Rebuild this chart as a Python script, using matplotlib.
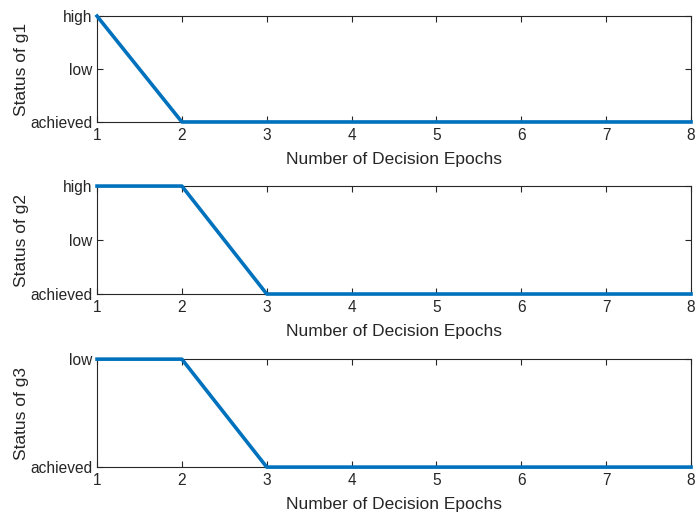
import numpy as np
from matplotlib import pyplot as plt

plt.rcParams['font.family'] = ['Liberation Sans', 'DejaVu Sans']

# Decision epochs and goal status (0 = achieved, 1 = low, 2 = high)
epochs = [1, 2, 3, 4, 5, 6, 7, 8]
status_g1 = [2, 0, 0, 0, 0, 0, 0, 0]
status_g2 = [2, 2, 0, 0, 0, 0, 0, 0]
status_g3 = [1, 1, 0, 0, 0, 0, 0, 0]
level_names = ['achieved', 'low', 'high']

series = [('g1', status_g1, 3), ('g2', status_g2, 3), ('g3', status_g3, 2)]
# axes rectangles [left, bottom, width, height]
rects = [[0.139, 0.765, 0.851, 0.204],
         [0.139, 0.4335, 0.851, 0.208],
         [0.139, 0.100, 0.851, 0.208]]

fig = plt.figure(figsize=(6.98, 5.19), dpi=100)
for (name, vals, nlev), rect in zip(series, rects):
    ax = fig.add_axes(rect)
    ax.plot(epochs, vals, color='#0072BD', linewidth=2.6, clip_on=False, zorder=5)
    ax.set_xlim(1, 8)
    ax.set_ylim(0, nlev - 1)
    ax.set_xticks(epochs)
    ax.set_yticks(range(nlev))
    ax.set_yticklabels(level_names[:nlev])
    ax.tick_params(direction='in', top=True, right=True, length=4,
                   labelsize=11.2, colors='#262626', width=0.8, pad=4)
    ax.tick_params(axis='y', pad=3)
    for s in ax.spines.values():
        s.set_color('#262626')
        s.set_linewidth(0.8)
    ax.set_xlabel('Number of Decision Epochs', fontsize=12.5, color='#262626', labelpad=7)
    ax.set_ylabel('Status of ' + name, fontsize=12.5, color='#262626', labelpad=1)

plt.savefig('out.png', dpi=100)
